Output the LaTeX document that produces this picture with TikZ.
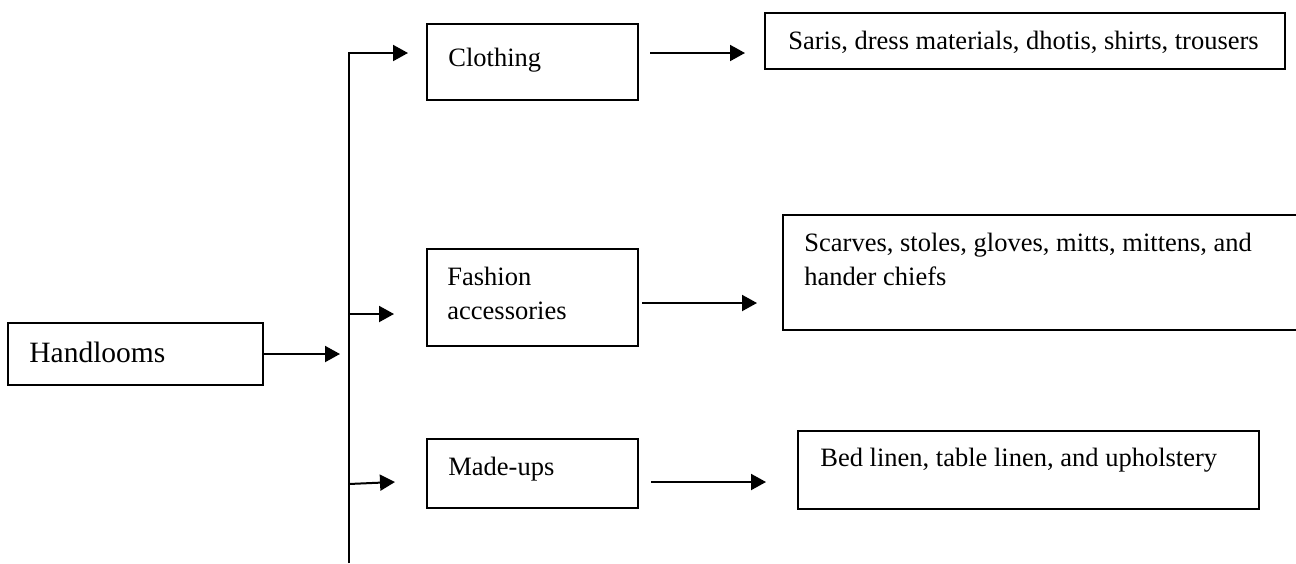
\documentclass[tikz,border=0pt]{standalone}
\usepackage{fontspec}
\setmainfont{Liberation Serif}
\usetikzlibrary{arrows.meta,calc}
\begin{document}
\begin{tikzpicture}[x=0.5pt,y=-0.5pt,
  box/.style={draw, line width=1.1pt, inner sep=0pt, outer sep=0pt, anchor=north west},
  txt/.style={inner sep=0pt, anchor=base west, font=\fontsize{13.25pt}{17pt}\selectfont},
  bigtxt/.style={inner sep=0pt, anchor=base west, font=\fontsize{14.75pt}{18pt}\selectfont},
  arr/.style={line width=1pt, -{Triangle[length=7.5pt,width=8pt]}},
  trunkline/.style={line width=1pt}]
\useasboundingbox (0,0) rectangle (1296,563);
% boxes
\node[box, minimum width=127.5pt, minimum height=31pt] (hand) at (8,323) {};
\node[box, minimum width=105.5pt, minimum height=38pt] (cloth) at (427,24) {};
\node[box, minimum width=260pt, minimum height=28pt] (saris) at (765,13) {};
\node[box, minimum width=105.5pt, minimum height=48.5pt] (fash) at (427,249) {};
\node[box, minimum width=259.5pt, minimum height=57.5pt] (scarf) at (783,215) {};
\node[box, minimum width=105.5pt, minimum height=34.5pt] (mu) at (427,439) {};
\node[box, minimum width=230.5pt, minimum height=39pt] (bed) at (798,431) {};
% texts (multi-line nodes are anchored at the baseline of their last line)
\node[bigtxt] (handt) at (29,362) {Handlooms};
\node[txt] (clotht) at (448,66) {Clothing};
\node[txt] (sarist) at (788,49) {Saris, dress materials, dhotis, shirts, trousers};
\node[txt, align=left] (fasht) at (447,319) {Fashion\\accessories};
\node[txt, align=left] (scarft) at (804,285) {Scarves, stoles, gloves, mitts, mittens, and\\hander chiefs};
\node[txt] (mut) at (448,475) {Made-ups};
\node[txt] (bedt) at (820,466) {Bed linen, table linen, and upholstery};
% trunk coordinates
\coordinate (ttop) at (349,53);
\coordinate (tbot) at (349,563);
\coordinate (tmid) at (349,314);
\coordinate (tlow) at (349,484);
\coordinate (lowend) at (395,482);
% connectors
\draw[arr, shorten >=4.5pt] (hand.east) -- (hand.east -| ttop);
\draw[arr, shorten >=9.5pt] (tbot) -- (ttop) -- (ttop -| cloth.west);
\draw[arr, shorten >=16.5pt] (tmid) -- (tmid -| fash.west);
\draw[arr] (tlow) -- (lowend);
\draw[arr, shorten <=6pt, shorten >=10pt] (cloth.east |- ttop) -- (saris.west |- ttop);
\coordinate (fy) at (0,303);
\draw[arr, shorten <=2pt, shorten >=13pt] (fash.east |- fy) -- (scarf.west |- fy);
\draw[arr, shorten <=6.5pt, shorten >=16pt] (mu.east |- lowend) -- (bed.west |- lowend);
\end{tikzpicture}
\end{document}
